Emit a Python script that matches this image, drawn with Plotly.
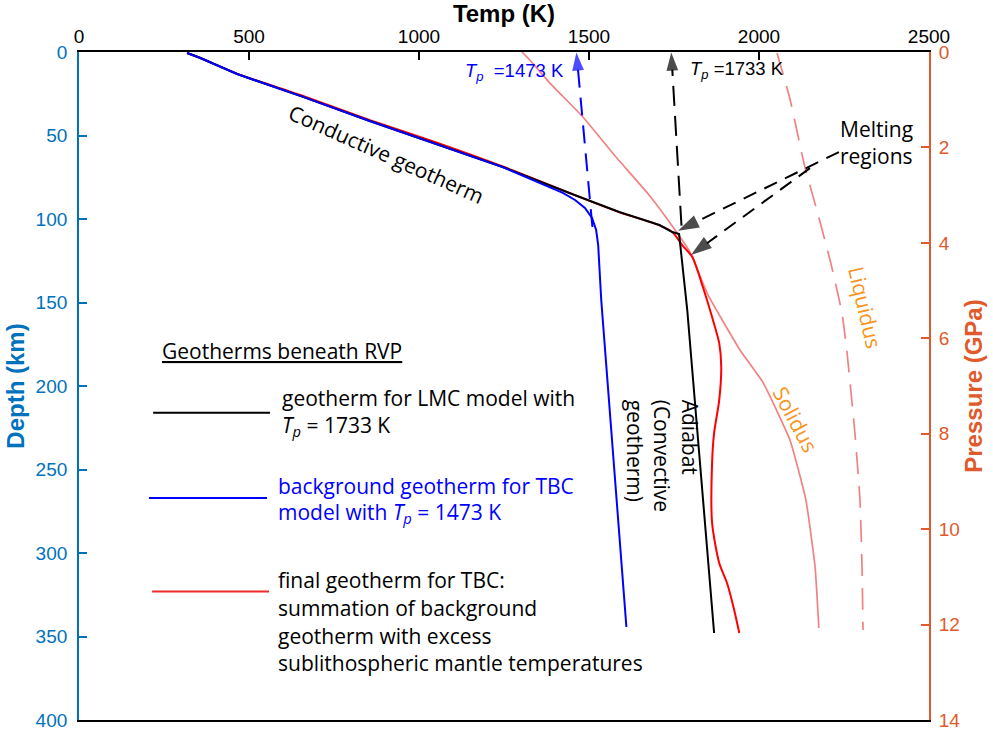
import plotly.graph_objects as go

# ---------------- data ----------------
# LMC geotherm (conductive part + adiabat), Tp = 1733 K
lmc_T = [318, 357, 465, 659, 855, 1052, 1246, 1442, 1589, 1707, 1745, 1765, 1789, 1868]
lmc_depth = [0.6, 3.6, 13.2, 26.9, 41.3, 55.1, 68.9, 84.4, 95.8, 103.6, 107.8, 109.0, 154.5, 347.9]

# TBC background geotherm, Tp = 1473 K
tbc_bg_T = [318, 357, 465, 659, 855, 1052, 1246, 1423, 1459, 1488, 1509, 1521, 1527, 1536, 1610]
tbc_bg_depth = [0.6, 3.6, 13.2, 26.9, 41.3, 55.1, 68.9, 84.4, 88.6, 93.4, 99.4, 106.6, 115.6, 148.5, 344.3]

# TBC final geotherm
tbc_final_T = [318, 357, 466, 663, 858, 1057, 1248, 1444, 1590, 1708, 1745, 1774, 1804, 1833,
               1862, 1883, 1889, 1883, 1868, 1862, 1862, 1883, 1906, 1927, 1942]
tbc_final_depth = [0.6, 3.6, 13.1, 26.6, 41.0, 54.6, 68.7, 84.5, 96.0, 103.8, 107.8, 115.6, 122.8, 139.5,
                   158.7, 174.3, 188.6, 208.4, 228.1, 246.1, 282.0, 306.0, 318.0, 334.1, 347.9]

# Solidus and liquidus
solidus_T = [1303, 1326, 1385, 1482, 1582, 1679, 1747, 1797, 1850, 1944, 2012, 2091, 2138, 2165, 2176]
solidus_depth = [0, 4.8, 18.6, 38.9, 63.5, 86.2, 104.8, 119.8, 145.5, 178.4, 198.0, 232.3, 268.3, 308.4, 344.9]
liquidus_T = [2053, 2091, 2135, 2170, 2209, 2244, 2259, 2282, 2297, 2303, 2306]
liquidus_depth = [0.6, 28.1, 68.9, 94.6, 124.6, 156.3, 180.2, 228.1, 268.3, 308.4, 346.1]

# Adiabat extrapolations to the surface (potential temperatures)
tp_tbc_T = [1510, 1463]
tp_tbc_depth = [104.8, 0.3]
tp_lmc_T = [1772, 1742]
tp_lmc_depth = [104.0, 0.3]

# "Melting regions" pointer lines
melt1_T = [2235, 1762]
melt1_depth = [59.9, 107.0]
melt2_T = [2150, 1800]
melt2_depth = [69.5, 121.5]

x_ticks = [0, 500, 1000, 1500, 2000, 2500]
depth_ticks = [0, 50, 100, 150, 200, 250, 300, 350, 400]
pressure_ticks = [0, 2, 4, 6, 8, 10, 12, 14]

# ---------------- styling ----------------
BLUE_AX = "#0072BD"
ORANGE_AX = "#E05A2B"
PINK = "#F28282"
LABEL_ORANGE = "#F7941D"
SANS = "Liberation Sans, Arial, sans-serif"
MYR = "Open Sans, Noto Sans, sans-serif"
FS = 21

fig = go.Figure()

def curve(x, y, color, width=2, dash=None, shape="linear", smoothing=1.0):
    line = dict(color=color, width=width, shape=shape)
    if shape == "spline":
        line["smoothing"] = smoothing
    if dash:
        line["dash"] = dash
    fig.add_trace(go.Scatter(x=x, y=y, mode="lines", line=line,
                             showlegend=False, hoverinfo="skip"))

def arrow_line(x, y, color, dash, size=18):
    fig.add_trace(go.Scatter(
        x=x, y=y, mode="lines+markers",
        line=dict(color=color, width=2, dash=dash),
        marker=dict(symbol="arrow", size=[0] * (len(x) - 1) + [size], angleref="previous",
                    color=color, line=dict(width=0)),
        showlegend=False, hoverinfo="skip"))

curve(solidus_T, solidus_depth, PINK, width=1.7, shape="spline", smoothing=0.4)
curve(liquidus_T, liquidus_depth, PINK, width=1.7, dash="22px,12px", shape="spline", smoothing=0.5)
curve(tbc_final_T, tbc_final_depth, "#FF0000", width=2, shape="spline", smoothing=0.7)
curve(lmc_T, lmc_depth, "black", width=2)
curve(tbc_bg_T, tbc_bg_depth, "#0000FF", width=2)
arrow_line(tp_tbc_T, tp_tbc_depth, "#0000FF", "18px,10px", size=19)
arrow_line(tp_lmc_T, tp_lmc_depth, "black", "20px,10px", size=19)
arrow_line(melt1_T, melt1_depth, "black", "14px,9px", size=22)
arrow_line(melt2_T, melt2_depth, "black", "14px,9px", size=22)

# empty trace so the pressure axis is drawn
fig.add_trace(go.Scatter(x=[], y=[], yaxis="y2", mode="lines",
                         showlegend=False, hoverinfo="skip"))

ann = []

def text(x, y, s, size=FS, color="black", family=MYR, xanchor="left", yanchor="middle",
         angle=0, align="left"):
    ann.append(dict(x=x, y=y, xref="x", yref="y", text=s, showarrow=False,
                    font=dict(size=size, color=color, family=family),
                    xanchor=xanchor, yanchor=yanchor, textangle=angle, align=align))

# Tp labels
text(1129, 12.0, "<i>T</i><sub><i>p</i></sub>  =1473 K", size=18.5, color="#0000FF", family=SANS)
text(1791, 10.8, "<i>T</i><sub><i>p</i></sub> =1733 K", size=18.5, color="black", family=SANS)

# curve labels
text(904, 61, "Conductive geotherm", xanchor="center", angle=24)
text(2232, 53.9, "Melting<br>regions")
text(1716, 242, "Adiabat<br>(Convective<br>geotherm)", xanchor="center", angle=90, align="left")
text(2106, 220, "Solidus", color=LABEL_ORANGE, xanchor="center", angle=62)
text(2312, 152.7, "Liquidus", color=LABEL_ORANGE, xanchor="center", angle=77)

# manual legend
text(238, 179, "<u>Geotherms beneath RVP</u>")
text(591, 207, "geotherm for LMC model with")
text(591, 224, "<i>T</i><sub><i>p</i></sub> = 1733 K")
text(579, 260, "background geotherm for TBC", color="#0000FF")
text(579, 276, "model with <i>T</i><sub><i>p</i></sub> = 1473 K", color="#0000FF")
text(579, 316, "final geotherm for TBC:")
text(579, 333, "summation of background")
text(579, 349.5, "geotherm with excess")
text(579, 366, "sublithospheric mantle temperatures")

shapes = [
    dict(type="line", xref="x", yref="y", x0=218, x1=562, y0=216, y1=216,
         line=dict(color="black", width=2)),
    dict(type="line", xref="x", yref="y", x0=206, x1=553, y0=267, y1=267,
         line=dict(color="#0000FF", width=2)),
    dict(type="line", xref="x", yref="y", x0=215, x1=559, y0=323, y1=323,
         line=dict(color="#EE2B2B", width=2)),
]

fig.update_layout(
    width=993, height=733,
    margin=dict(l=79, r=64, t=52, b=13, autoexpand=False),
    paper_bgcolor="white", plot_bgcolor="white",
    showlegend=False,
    annotations=ann, shapes=shapes,
    xaxis=dict(range=[0, 2500], side="top", tickvals=x_ticks, automargin=False,
               ticks="inside", ticklen=8, tickwidth=1.5, tickcolor="black",
               showline=True, linecolor="black", linewidth=1.8, mirror=True,
               showgrid=False, zeroline=False,
               tickfont=dict(family=SANS, size=19, color="black"),
               title=dict(text="<b>Temp (K)</b>",
                          font=dict(family=SANS, size=24, color="black"))),
    yaxis=dict(range=[400, 0], tickvals=depth_ticks, automargin=True,
               ticks="inside", ticklen=8, tickwidth=1.5, tickcolor=BLUE_AX,
               showline=True, linecolor=BLUE_AX, linewidth=1.8,
               showgrid=False, zeroline=False, ticklabelstandoff=6,
               tickfont=dict(family=SANS, size=19, color=BLUE_AX),
               title=dict(text="<b>Depth (km)</b>", standoff=4,
                          font=dict(family=SANS, size=24, color=BLUE_AX))),
    yaxis2=dict(range=[14, 0], tickvals=pressure_ticks, overlaying="y", side="right",
                anchor="x", automargin=True,
                ticks="inside", ticklen=8, tickwidth=1.5, tickcolor=ORANGE_AX,
                showline=True, linecolor=ORANGE_AX, linewidth=1.8,
                showgrid=False, zeroline=False, ticklabelstandoff=4,
                tickfont=dict(family=SANS, size=19, color=ORANGE_AX),
                title=dict(text="<b>Pressure (GPa)</b>", standoff=6,
                           font=dict(family=SANS, size=24, color=ORANGE_AX))),
)

fig.write_html("out.html")
